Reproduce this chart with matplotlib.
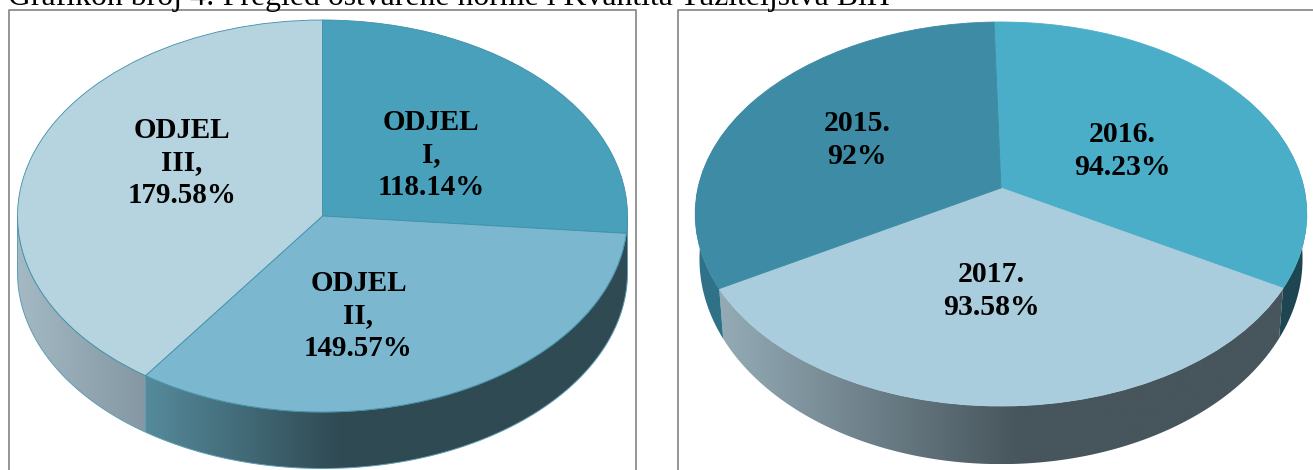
import numpy as np
import matplotlib
matplotlib.use("Agg")
import matplotlib.pyplot as plt
from matplotlib.patches import Polygon
from matplotlib.transforms import Transform
from matplotlib.colors import to_rgb

# ---- data ----
dept_labels = ["ODJEL\nI,\n118.14%", "ODJEL\nII,\n149.57%", "ODJEL\nIII,\n179.58%"]
dept_values = [118.14, 149.57, 179.58]
dept_colors = ["#48a0bb", "#7bb8cf", "#b5d4e0"]
year_labels = ["2016.\n94.23%", "2017.\n93.58%", "2015.\n92%"]
year_values = [94.23, 93.58, 92.0]
year_colors = ["#4baec9", "#a9cddc", "#3d8ba5"]
title_text = "Grafikon broj 4: Pregled ostvarene norme i Kvantita Tužiteljstva BiH"

W, H = 1313, 470
plt.rcParams["font.family"] = ["Liberation Serif", "DejaVu Serif"]
fig = plt.figure(figsize=(W / 100, H / 100), dpi=100, facecolor="white")


class Tilt(Transform):
    """Maps the unit disc to the tilted disc: foreshortening plus perspective."""
    input_dims = output_dims = 2
    is_separable = False
    has_inverse = False

    def __init__(self, bx, a, k, cx, cy):
        super().__init__()
        self.bx, self.a, self.k, self.cx, self.cy = bx, a, k, cx, cy

    def transform_non_affine(self, xy):
        xy = np.asarray(xy, float)
        d = 1 + self.k * xy[:, 1]
        return np.column_stack([self.cx + self.bx * xy[:, 0] / d,
                                self.cy - self.a * xy[:, 1] / d])


def wall(tilt, t0, t1, c0, c1, xspan, low, edge=None):
    """Side wall between clock angles t0 and t1 (deg, clockwise from top)."""
    ts = np.radians(np.linspace(t0, t1, 240))
    top = tilt.transform_non_affine(np.column_stack([np.sin(ts), np.cos(ts)]))
    sx, sy, dy = low
    bot = np.column_stack([tilt.cx + sx * (top[:, 0] - tilt.cx), sy * top[:, 1] + dy])
    poly = np.vstack([top, bot[::-1]])
    xa, xb = poly[:, 0].min(), poly[:, 0].max()
    ya, yb = poly[:, 1].min(), poly[:, 1].max()
    xs = np.linspace(xa, xb, 400)
    f = np.clip((xs - xspan[0]) / (xspan[1] - xspan[0]), 0, 1)[:, None]
    grad = (np.array(to_rgb(c0)) * (1 - f) + np.array(to_rgb(c1)) * f)[None, :, :]
    im = ax.imshow(grad, extent=(xa, xb, yb, ya), aspect="auto", zorder=1, interpolation="bilinear")
    patch = Polygon(poly, closed=True, facecolor="none", edgecolor=edge or "none", lw=0.7, zorder=1.2)
    ax.add_patch(patch)
    im.set_clip_path(patch)


def panel(values, colors, labels, start, geom, walls, low, label_xy, fs, line, wall_edge):
    tilt = Tilt(*geom)
    for w in walls:
        wall(tilt, *w, low, wall_edge)
    wedges, _ = ax.pie(values, colors=colors, startangle=start, counterclock=False,
                       radius=1, frame=False)
    for wd, col in zip(wedges, colors):
        wd.set_transform(tilt + ax.transData)
        wd.set_zorder(2)
        wd.set_edgecolor(line or col)
        wd.set_linewidth(0.6)
        wd.set_clip_on(False)
    for lab, (x, y) in zip(labels, label_xy):
        ax.text(x, y, lab, ha="center", va="center", fontsize=fs, fontweight="bold",
                color="black", linespacing=1.26, zorder=3)


ax = fig.add_axes([0, 0, 1, 1])

# frames
for (x0, x1) in [(9, 635.5), (677.5, 1330)]:
    ax.plot([x0, x0, x1, x1, x0], [H + 5, 10, 10, H + 5, H + 5], color="#8c8c8c", lw=1.3, zorder=0)

# left pie
dept_frac = np.cumsum(dept_values) / np.sum(dept_values) * 360
panel(dept_values, dept_colors, dept_labels, 90, (305, 196, 0.0, 322.5, 216),
      [(90, dept_frac[1], "#558a9b", "#2f4a53", (146, 340)),
       (dept_frac[1], 270, "#8497a3", "#a3b9c4", (146, 18))],
      (1.0, 1.0, 56.5),
      [(431, 155), (358.5, 316), (182, 163)], 20.9, "#3f8fa8", "#5f9db0")

# right pie
start2 = 91.5
off = 90 - start2
year_frac = np.cumsum(year_values) / np.sum(year_values) * 360 + off
panel(year_values, year_colors, year_labels, start2, (303, 188.5, 0.1354, 1001, 188),
      [(60, year_frac[0], "#1e4652", "#1e4652", (1280, 1307)),
       (year_frac[0], year_frac[1], "#93aab5", "#47555c", (725, 1020)),
       (year_frac[1], 300, "#2f7288", "#2f7288", (700, 720))],
      (0.986, 1.068, 30.5),
      [(1122, 151), (991, 291), (857, 140)], 21.4, None, None)

ax.text(8, 4.5, title_text, fontsize=22.85, color="black", va="baseline", ha="left", zorder=5)

ax.set_aspect("auto")
ax.set_xlim(0, W)
ax.set_ylim(H, 0)
ax.set_xticks([])
ax.set_yticks([])
ax.axis("off")
fig.savefig("out.png", dpi=100, facecolor="white")
